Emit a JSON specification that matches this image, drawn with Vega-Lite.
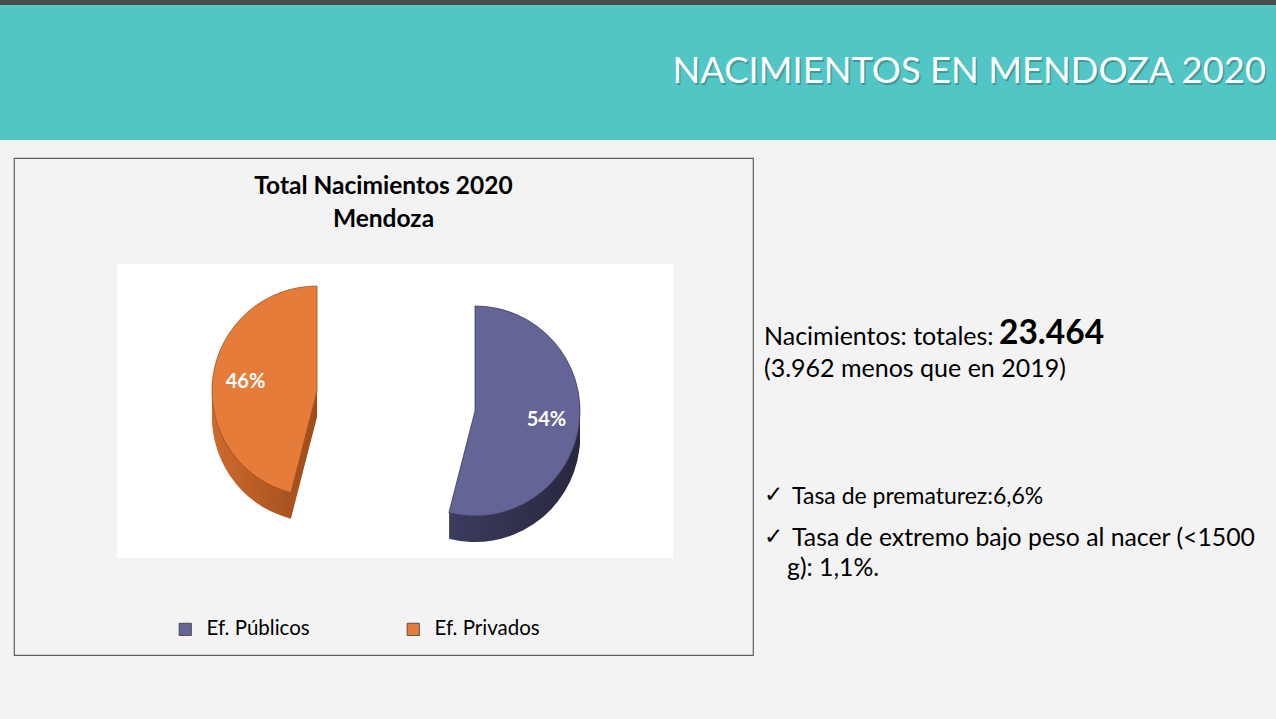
{
  "$schema": "https://vega.github.io/schema/vega-lite/v6.json",
  "background": "#f3f3f3",
  "padding": {"left": 0, "top": 0, "right": 0, "bottom": 65},
  "spacing": 17,
  "config": {"view": {"stroke": null}, "font": "Lato"},
  "vconcat": [
    {
      "spacing": 0,
      "vconcat": [
        {
          "width": 1276, "height": 5,
          "view": {"fill": "#4b4b4b", "stroke": null},
          "data": {"values": []},
          "mark": "point",
          "encoding": {}
        },
        {
          "width": 1276, "height": 135,
          "view": {"fill": "#52c5c5", "stroke": null},
          "data": {"values": [{"t": "NACIMIENTOS EN MENDOZA 2020"}]},
          "layer": [
            {"mark": {"type": "text", "x": 1267.5, "y": 68.5, "align": "right", "baseline": "middle", "fontSize": 36.4, "font": "Lato", "color": "#2f7f7f", "opacity": 0.6}, "encoding": {"text": {"field": "t"}}},
            {"mark": {"type": "text", "x": 1266, "y": 67, "align": "right", "baseline": "middle", "fontSize": 36.4, "font": "Lato", "color": "#ffffff"}, "encoding": {"text": {"field": "t"}}}
          ]
        }
      ]
    },
    {
      "spacing": 0,
      "hconcat": [
        {
          "width": 13, "height": 497,
          "data": {"values": []},
          "mark": "point",
          "encoding": {}
        },
        {
          "width": 739, "height": 497,
          "view": {"stroke": "#5f5f5f", "strokeWidth": 1.2},
          "data": {"values": [
            {"cat": "Ef. Públicos", "pct": 54, "label": "54%"},
            {"cat": "Ef. Privados", "pct": 46, "label": "46%"}
          ]},
          "layer": [
            {
              "data": {"values": [{}]},
              "mark": {"type": "rect", "fill": "#ffffff", "x": 103, "x2": 659, "y": 106, "y2": 400},
              "encoding": {}
            },
            {
              "data": {"values": [{"t": "Total Nacimientos 2020"}, {"t": "Mendoza"}]},
              "mark": {"type": "text", "x": 369.5, "align": "center", "baseline": "middle", "fontSize": 24.5, "fontWeight": "bold", "font": "Lato", "color": "#000000"},
              "encoding": {"text": {"field": "t"}, "y": {"field": "t", "type": "nominal", "sort": null, "scale": {"type": "point", "domain": ["Total Nacimientos 2020", "Mendoza"], "range": [29, 62], "padding": 0}, "axis": null}}
            },
            {"mark": {"type": "arc", "radius": 105, "x": {"expr": "datum.cat === 'Ef. Públicos' ? 461 : 303"}, "y": {"expr": "(datum.cat === 'Ef. Públicos' ? 253 : 233) + 26"}}, "encoding": {"theta": {"field": "pct", "type": "quantitative", "stack": true}, "order": {"field": "pct", "sort": "descending"}, "fill": {"condition": {"test": "datum.cat === 'Ef. Públicos'", "value": {"gradient": "linear", "x1": 0, "y1": 0, "x2": 1, "y2": 0, "stops": [{"offset": 0, "color": "#3c3c5e"}, {"offset": 1, "color": "#27273e"}]}}, "value": {"gradient": "linear", "x1": 0, "y1": 0, "x2": 1, "y2": 0, "stops": [{"offset": 0, "color": "#cd6a2e"}, {"offset": 1, "color": "#9c4c1b"}]}}}},
            {"mark": {"type": "arc", "radius": 105, "x": {"expr": "datum.cat === 'Ef. Públicos' ? 461 : 303"}, "y": {"expr": "(datum.cat === 'Ef. Públicos' ? 253 : 233) + 24"}}, "encoding": {"theta": {"field": "pct", "type": "quantitative", "stack": true}, "order": {"field": "pct", "sort": "descending"}, "fill": {"condition": {"test": "datum.cat === 'Ef. Públicos'", "value": {"gradient": "linear", "x1": 0, "y1": 0, "x2": 1, "y2": 0, "stops": [{"offset": 0, "color": "#3c3c5e"}, {"offset": 1, "color": "#27273e"}]}}, "value": {"gradient": "linear", "x1": 0, "y1": 0, "x2": 1, "y2": 0, "stops": [{"offset": 0, "color": "#cd6a2e"}, {"offset": 1, "color": "#9c4c1b"}]}}}},
            {"mark": {"type": "arc", "radius": 105, "x": {"expr": "datum.cat === 'Ef. Públicos' ? 461 : 303"}, "y": {"expr": "(datum.cat === 'Ef. Públicos' ? 253 : 233) + 22"}}, "encoding": {"theta": {"field": "pct", "type": "quantitative", "stack": true}, "order": {"field": "pct", "sort": "descending"}, "fill": {"condition": {"test": "datum.cat === 'Ef. Públicos'", "value": {"gradient": "linear", "x1": 0, "y1": 0, "x2": 1, "y2": 0, "stops": [{"offset": 0, "color": "#3c3c5e"}, {"offset": 1, "color": "#27273e"}]}}, "value": {"gradient": "linear", "x1": 0, "y1": 0, "x2": 1, "y2": 0, "stops": [{"offset": 0, "color": "#cd6a2e"}, {"offset": 1, "color": "#9c4c1b"}]}}}},
            {"mark": {"type": "arc", "radius": 105, "x": {"expr": "datum.cat === 'Ef. Públicos' ? 461 : 303"}, "y": {"expr": "(datum.cat === 'Ef. Públicos' ? 253 : 233) + 20"}}, "encoding": {"theta": {"field": "pct", "type": "quantitative", "stack": true}, "order": {"field": "pct", "sort": "descending"}, "fill": {"condition": {"test": "datum.cat === 'Ef. Públicos'", "value": {"gradient": "linear", "x1": 0, "y1": 0, "x2": 1, "y2": 0, "stops": [{"offset": 0, "color": "#3c3c5e"}, {"offset": 1, "color": "#27273e"}]}}, "value": {"gradient": "linear", "x1": 0, "y1": 0, "x2": 1, "y2": 0, "stops": [{"offset": 0, "color": "#cd6a2e"}, {"offset": 1, "color": "#9c4c1b"}]}}}},
            {"mark": {"type": "arc", "radius": 105, "x": {"expr": "datum.cat === 'Ef. Públicos' ? 461 : 303"}, "y": {"expr": "(datum.cat === 'Ef. Públicos' ? 253 : 233) + 18"}}, "encoding": {"theta": {"field": "pct", "type": "quantitative", "stack": true}, "order": {"field": "pct", "sort": "descending"}, "fill": {"condition": {"test": "datum.cat === 'Ef. Públicos'", "value": {"gradient": "linear", "x1": 0, "y1": 0, "x2": 1, "y2": 0, "stops": [{"offset": 0, "color": "#3c3c5e"}, {"offset": 1, "color": "#27273e"}]}}, "value": {"gradient": "linear", "x1": 0, "y1": 0, "x2": 1, "y2": 0, "stops": [{"offset": 0, "color": "#cd6a2e"}, {"offset": 1, "color": "#9c4c1b"}]}}}},
            {"mark": {"type": "arc", "radius": 105, "x": {"expr": "datum.cat === 'Ef. Públicos' ? 461 : 303"}, "y": {"expr": "(datum.cat === 'Ef. Públicos' ? 253 : 233) + 16"}}, "encoding": {"theta": {"field": "pct", "type": "quantitative", "stack": true}, "order": {"field": "pct", "sort": "descending"}, "fill": {"condition": {"test": "datum.cat === 'Ef. Públicos'", "value": {"gradient": "linear", "x1": 0, "y1": 0, "x2": 1, "y2": 0, "stops": [{"offset": 0, "color": "#3c3c5e"}, {"offset": 1, "color": "#27273e"}]}}, "value": {"gradient": "linear", "x1": 0, "y1": 0, "x2": 1, "y2": 0, "stops": [{"offset": 0, "color": "#cd6a2e"}, {"offset": 1, "color": "#9c4c1b"}]}}}},
            {"mark": {"type": "arc", "radius": 105, "x": {"expr": "datum.cat === 'Ef. Públicos' ? 461 : 303"}, "y": {"expr": "(datum.cat === 'Ef. Públicos' ? 253 : 233) + 14"}}, "encoding": {"theta": {"field": "pct", "type": "quantitative", "stack": true}, "order": {"field": "pct", "sort": "descending"}, "fill": {"condition": {"test": "datum.cat === 'Ef. Públicos'", "value": {"gradient": "linear", "x1": 0, "y1": 0, "x2": 1, "y2": 0, "stops": [{"offset": 0, "color": "#3c3c5e"}, {"offset": 1, "color": "#27273e"}]}}, "value": {"gradient": "linear", "x1": 0, "y1": 0, "x2": 1, "y2": 0, "stops": [{"offset": 0, "color": "#cd6a2e"}, {"offset": 1, "color": "#9c4c1b"}]}}}},
            {"mark": {"type": "arc", "radius": 105, "x": {"expr": "datum.cat === 'Ef. Públicos' ? 461 : 303"}, "y": {"expr": "(datum.cat === 'Ef. Públicos' ? 253 : 233) + 12"}}, "encoding": {"theta": {"field": "pct", "type": "quantitative", "stack": true}, "order": {"field": "pct", "sort": "descending"}, "fill": {"condition": {"test": "datum.cat === 'Ef. Públicos'", "value": {"gradient": "linear", "x1": 0, "y1": 0, "x2": 1, "y2": 0, "stops": [{"offset": 0, "color": "#3c3c5e"}, {"offset": 1, "color": "#27273e"}]}}, "value": {"gradient": "linear", "x1": 0, "y1": 0, "x2": 1, "y2": 0, "stops": [{"offset": 0, "color": "#cd6a2e"}, {"offset": 1, "color": "#9c4c1b"}]}}}},
            {"mark": {"type": "arc", "radius": 105, "x": {"expr": "datum.cat === 'Ef. Públicos' ? 461 : 303"}, "y": {"expr": "(datum.cat === 'Ef. Públicos' ? 253 : 233) + 10"}}, "encoding": {"theta": {"field": "pct", "type": "quantitative", "stack": true}, "order": {"field": "pct", "sort": "descending"}, "fill": {"condition": {"test": "datum.cat === 'Ef. Públicos'", "value": {"gradient": "linear", "x1": 0, "y1": 0, "x2": 1, "y2": 0, "stops": [{"offset": 0, "color": "#3c3c5e"}, {"offset": 1, "color": "#27273e"}]}}, "value": {"gradient": "linear", "x1": 0, "y1": 0, "x2": 1, "y2": 0, "stops": [{"offset": 0, "color": "#cd6a2e"}, {"offset": 1, "color": "#9c4c1b"}]}}}},
            {"mark": {"type": "arc", "radius": 105, "x": {"expr": "datum.cat === 'Ef. Públicos' ? 461 : 303"}, "y": {"expr": "(datum.cat === 'Ef. Públicos' ? 253 : 233) + 8"}}, "encoding": {"theta": {"field": "pct", "type": "quantitative", "stack": true}, "order": {"field": "pct", "sort": "descending"}, "fill": {"condition": {"test": "datum.cat === 'Ef. Públicos'", "value": {"gradient": "linear", "x1": 0, "y1": 0, "x2": 1, "y2": 0, "stops": [{"offset": 0, "color": "#3c3c5e"}, {"offset": 1, "color": "#27273e"}]}}, "value": {"gradient": "linear", "x1": 0, "y1": 0, "x2": 1, "y2": 0, "stops": [{"offset": 0, "color": "#cd6a2e"}, {"offset": 1, "color": "#9c4c1b"}]}}}},
            {"mark": {"type": "arc", "radius": 105, "x": {"expr": "datum.cat === 'Ef. Públicos' ? 461 : 303"}, "y": {"expr": "(datum.cat === 'Ef. Públicos' ? 253 : 233) + 6"}}, "encoding": {"theta": {"field": "pct", "type": "quantitative", "stack": true}, "order": {"field": "pct", "sort": "descending"}, "fill": {"condition": {"test": "datum.cat === 'Ef. Públicos'", "value": {"gradient": "linear", "x1": 0, "y1": 0, "x2": 1, "y2": 0, "stops": [{"offset": 0, "color": "#3c3c5e"}, {"offset": 1, "color": "#27273e"}]}}, "value": {"gradient": "linear", "x1": 0, "y1": 0, "x2": 1, "y2": 0, "stops": [{"offset": 0, "color": "#cd6a2e"}, {"offset": 1, "color": "#9c4c1b"}]}}}},
            {"mark": {"type": "arc", "radius": 105, "x": {"expr": "datum.cat === 'Ef. Públicos' ? 461 : 303"}, "y": {"expr": "(datum.cat === 'Ef. Públicos' ? 253 : 233) + 4"}}, "encoding": {"theta": {"field": "pct", "type": "quantitative", "stack": true}, "order": {"field": "pct", "sort": "descending"}, "fill": {"condition": {"test": "datum.cat === 'Ef. Públicos'", "value": {"gradient": "linear", "x1": 0, "y1": 0, "x2": 1, "y2": 0, "stops": [{"offset": 0, "color": "#3c3c5e"}, {"offset": 1, "color": "#27273e"}]}}, "value": {"gradient": "linear", "x1": 0, "y1": 0, "x2": 1, "y2": 0, "stops": [{"offset": 0, "color": "#cd6a2e"}, {"offset": 1, "color": "#9c4c1b"}]}}}},
            {"mark": {"type": "arc", "radius": 105, "x": {"expr": "datum.cat === 'Ef. Públicos' ? 461 : 303"}, "y": {"expr": "(datum.cat === 'Ef. Públicos' ? 253 : 233) + 2"}}, "encoding": {"theta": {"field": "pct", "type": "quantitative", "stack": true}, "order": {"field": "pct", "sort": "descending"}, "fill": {"condition": {"test": "datum.cat === 'Ef. Públicos'", "value": {"gradient": "linear", "x1": 0, "y1": 0, "x2": 1, "y2": 0, "stops": [{"offset": 0, "color": "#3c3c5e"}, {"offset": 1, "color": "#27273e"}]}}, "value": {"gradient": "linear", "x1": 0, "y1": 0, "x2": 1, "y2": 0, "stops": [{"offset": 0, "color": "#cd6a2e"}, {"offset": 1, "color": "#9c4c1b"}]}}}},
            {
              "mark": {"type": "arc", "radius": 105, "x": {"expr": "datum.cat === 'Ef. Públicos' ? 461 : 303"}, "y": {"expr": "datum.cat === 'Ef. Públicos' ? 253 : 233"}, "strokeWidth": 0.8, "stroke": {"expr": "datum.cat === 'Ef. Públicos' ? '#3e3e62' : '#a4521d'"}},
              "encoding": {
                "theta": {"field": "pct", "type": "quantitative", "stack": true},
                "order": {"field": "pct", "sort": "descending"},
                "color": {
                  "field": "cat", "type": "nominal",
                  "scale": {"domain": ["Ef. Públicos", "Ef. Privados"], "range": ["#646496", "#e57c3a"]},
                  "legend": {"orient": "none", "legendX": 175, "legendY": 619, "direction": "horizontal", "title": null, "symbolType": "square", "symbolSize": 150, "symbolStrokeColor": "#3a3a3a", "symbolStrokeWidth": 0.8, "symbolOpacity": 1, "labelFontSize": 20.5, "labelFont": "Lato", "labelColor": "#000000", "columnPadding": 93, "labelOffset": 11}
                }
              }
            },
            {
              "mark": {"type": "text", "radius": 72, "x": {"expr": "datum.cat === 'Ef. Públicos' ? 461 : 303"}, "y": {"expr": "datum.cat === 'Ef. Públicos' ? 253 : 233"}, "fontSize": 20, "fontWeight": "bold", "font": "Lato", "fill": "#ffffff"},
              "encoding": {
                "theta": {"field": "pct", "type": "quantitative", "stack": true},
                "order": {"field": "pct", "sort": "descending"},
                "text": {"field": "label"}
              }
            }
          ]
        },
        {
          "width": 524, "height": 497,
          "layer": [
            {"data": {"values": [{"t": "Nacimientos: totales:"}]}, "mark": {"type": "text", "x": 10, "y": 179, "align": "left", "baseline": "middle", "fontSize": 25, "font": "Lato", "color": "#000000"}, "encoding": {"text": {"field": "t"}}},
            {"data": {"values": [{"t": "23.464"}]}, "mark": {"type": "text", "x": 245, "y": 176, "align": "left", "baseline": "middle", "fontSize": 33.5, "fontWeight": "bold", "font": "Lato", "color": "#000000"}, "encoding": {"text": {"field": "t"}}},
            {"data": {"values": [{"t": "(3.962 menos que en 2019)"}]}, "mark": {"type": "text", "x": 10, "y": 211, "align": "left", "baseline": "middle", "fontSize": 25, "font": "Lato", "color": "#000000"}, "encoding": {"text": {"field": "t"}}},
            {"data": {"values": [{"t": "✓"}]}, "mark": {"type": "text", "x": 10, "y": 337, "align": "left", "baseline": "middle", "fontSize": 23, "font": "DejaVu Sans", "color": "#000000"}, "encoding": {"text": {"field": "t"}}},
            {"data": {"values": [{"t": "✓"}]}, "mark": {"type": "text", "x": 10, "y": 379, "align": "left", "baseline": "middle", "fontSize": 23, "font": "DejaVu Sans", "color": "#000000"}, "encoding": {"text": {"field": "t"}}},
            {"data": {"values": [{"t": "Tasa de prematurez:6,6%"}]}, "mark": {"type": "text", "x": 38, "y": 339, "align": "left", "baseline": "middle", "fontSize": 23, "font": "Lato", "color": "#000000"}, "encoding": {"text": {"field": "t"}}},
            {"data": {"values": [{"t": "Tasa de extremo bajo peso al nacer (<1500"}]}, "mark": {"type": "text", "x": 38, "y": 381, "align": "left", "baseline": "middle", "fontSize": 24.8, "font": "Lato", "color": "#000000"}, "encoding": {"text": {"field": "t"}}},
            {"data": {"values": [{"t": "g): 1,1%."}]}, "mark": {"type": "text", "x": 33, "y": 411, "align": "left", "baseline": "middle", "fontSize": 24.8, "font": "Lato", "color": "#000000"}, "encoding": {"text": {"field": "t"}}}
          ]
        }
      ]
    }
  ]
}
